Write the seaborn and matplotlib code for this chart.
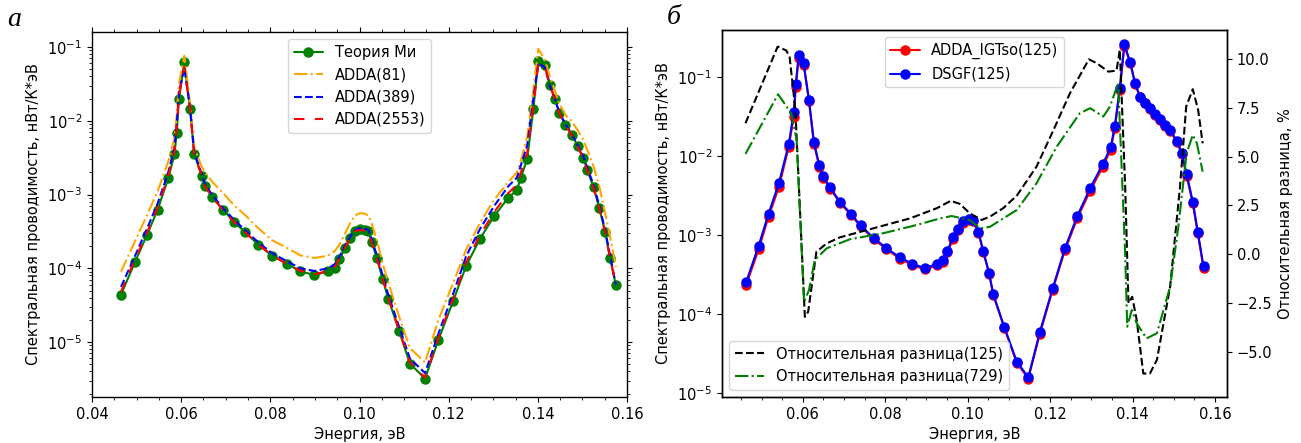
import numpy as np
import pandas as pd
import seaborn as sns
import matplotlib
matplotlib.use("Agg")
import matplotlib.pyplot as plt
from matplotlib.ticker import MultipleLocator, NullLocator

# ---------------- data: panel (a) ----------------
energy_a = [0.0465, 0.0496, 0.0523, 0.0547, 0.0571, 0.0585, 0.0590, 0.0595, 0.0607, 0.0620,
            0.0629, 0.0646, 0.0653, 0.0670, 0.0694, 0.0718, 0.0743, 0.0773, 0.0804, 0.0837,
            0.0867, 0.0899, 0.0929, 0.0944, 0.0955, 0.0968, 0.0979, 0.0990, 0.1001, 0.1012,
            0.1020, 0.1027, 0.1039, 0.1052, 0.1065, 0.1089, 0.1113, 0.1147, 0.1177, 0.1210,
            0.1239, 0.1270, 0.1302, 0.1334, 0.1353, 0.1362, 0.1376, 0.1390, 0.1401, 0.1416,
            0.1427, 0.1439, 0.1448, 0.1462, 0.1476, 0.1489, 0.1502, 0.1511, 0.1525, 0.1538,
            0.1551, 0.1562, 0.1575]

mie = [4.4e-5, 1.2e-4, 2.8e-4, 6.2e-4, 1.66e-3, 3.55e-3, 6.8e-3, 1.97e-2, 6.2e-2, 1.45e-2,
       3.6e-3, 1.8e-3, 1.32e-3, 9.3e-4, 6.2e-4, 4.3e-4, 3.1e-4, 2.1e-4, 1.48e-4, 1.15e-4,
       9.1e-5, 8.1e-5, 9.1e-5, 1.02e-4, 1.32e-4, 1.9e-4, 2.57e-4, 3.16e-4, 3.4e-4, 3.3e-4,
       3.16e-4, 2.3e-4, 1.38e-4, 7.1e-5, 3.8e-5, 1.41e-5, 5.1e-6, 3.2e-6, 1.07e-5, 3.6e-5,
       1.07e-4, 2.5e-4, 5.1e-4, 9.1e-4, 1.15e-3, 1.7e-3, 3.0e-3, 1.45e-2, 6.5e-2, 5.75e-2,
       3.1e-2, 1.95e-2, 1.29e-2, 8.9e-3, 6.5e-3, 4.6e-3, 3.16e-3, 2.14e-3, 1.26e-3, 6.5e-4,
       3.1e-4, 1.38e-4, 5.9e-5]

adda_81 = [9.0e-5, 2.3e-4, 5.2e-4, 1.1e-3, 2.8e-3, 5.8e-3, 1.2e-2, 3.2e-2, 7.6e-2, 1.7e-2,
           4.4e-3, 2.4e-3, 2.0e-3, 1.48e-3, 1.05e-3, 7.2e-4, 5.3e-4, 3.5e-4, 2.4e-4, 1.9e-4,
           1.5e-4, 1.38e-4, 1.48e-4, 1.7e-4, 2.1e-4, 3.0e-4, 4.1e-4, 5.2e-4, 5.6e-4, 5.5e-4,
           5.2e-4, 4.1e-4, 2.4e-4, 1.17e-4, 6.3e-5, 2.2e-5, 8.3e-6, 5.3e-6, 2.0e-5, 6.3e-5,
           1.78e-4, 4.1e-4, 8.5e-4, 1.48e-3, 2.0e-3, 2.9e-3, 6.0e-3, 2.6e-2, 9.5e-2, 6.6e-2,
           4.0e-2, 2.5e-2, 1.73e-2, 1.2e-2, 9.8e-3, 7.5e-3, 5.5e-3, 4.0e-3, 2.4e-3, 1.29e-3,
           5.6e-4, 2.7e-4, 1.05e-4]

adda_389 = [5.6e-5, 1.45e-4, 3.4e-4, 7.5e-4, 2.0e-3, 4.3e-3, 9.0e-3, 2.4e-2, 5.2e-2, 1.5e-2,
            3.8e-3, 1.9e-3, 1.4e-3, 9.8e-4, 6.5e-4, 4.6e-4, 3.3e-4, 2.25e-4, 1.6e-4, 1.25e-4,
            1.0e-4, 9.2e-5, 1.0e-4, 1.12e-4, 1.45e-4, 2.05e-4, 2.7e-4, 3.3e-4, 3.5e-4, 3.45e-4,
            3.3e-4, 2.5e-4, 1.5e-4, 8.0e-5, 4.3e-5, 1.6e-5, 6.0e-6, 3.8e-6, 1.3e-5, 4.5e-5,
            1.45e-4, 3.4e-4, 7.0e-4, 1.3e-3, 1.7e-3, 2.5e-3, 4.6e-3, 2.0e-2, 6.0e-2, 5.3e-2,
            3.0e-2, 1.9e-2, 1.3e-2, 9.0e-3, 6.6e-3, 4.7e-3, 3.3e-3, 2.3e-3, 1.35e-3, 7.0e-4,
            3.3e-4, 1.5e-4, 6.0e-5]

adda_2553 = [4.8e-5, 1.3e-4, 3.0e-4, 6.6e-4, 1.8e-3, 3.9e-3, 8.0e-3, 2.2e-2, 5.3e-2, 1.45e-2,
             3.6e-3, 1.8e-3, 1.3e-3, 9.2e-4, 6.1e-4, 4.3e-4, 3.1e-4, 2.1e-4, 1.5e-4, 1.15e-4,
             9.3e-5, 8.3e-5, 9.2e-5, 1.03e-4, 1.35e-4, 1.95e-4, 2.6e-4, 3.2e-4, 3.3e-4, 3.25e-4,
             3.1e-4, 2.3e-4, 1.38e-4, 7.3e-5, 3.9e-5, 1.45e-5, 5.3e-6, 3.3e-6, 1.15e-5, 3.9e-5,
             1.2e-4, 2.8e-4, 5.8e-4, 1.05e-3, 1.35e-3, 2.0e-3, 3.6e-3, 1.6e-2, 5.8e-2, 5.4e-2,
             3.0e-2, 1.9e-2, 1.28e-2, 8.8e-3, 6.4e-3, 4.5e-3, 3.1e-3, 2.1e-3, 1.25e-3, 6.5e-4,
             3.1e-4, 1.38e-4, 6.0e-5]

# ---------------- data: panel (b) ----------------
energy_b = [0.0463, 0.0493, 0.0517, 0.0542, 0.0566, 0.0578, 0.0583, 0.0590, 0.0602, 0.0615,
            0.0627, 0.0640, 0.0649, 0.0666, 0.0690, 0.0716, 0.0740, 0.0772, 0.0803, 0.0835,
            0.0866, 0.0896, 0.0926, 0.0941, 0.0951, 0.0964, 0.0977, 0.0989, 0.1002, 0.1012,
            0.1026, 0.1038, 0.1052, 0.1062, 0.1089, 0.1119, 0.1147, 0.1175, 0.1206, 0.1236,
            0.1266, 0.1297, 0.1328, 0.1347, 0.1357, 0.1369, 0.1380, 0.1394, 0.1406, 0.1418,
            0.1430, 0.1442, 0.1454, 0.1467, 0.1479, 0.1491, 0.1507, 0.1519, 0.1531, 0.1546,
            0.1558, 0.1572]

dsgf_125 = [2.57e-4, 7.3e-4, 1.86e-3, 4.5e-3, 1.41e-2, 3.55e-2, 8.1e-2, 0.186, 0.148, 5.1e-2,
            1.48e-2, 7.6e-3, 5.5e-3, 4.0e-3, 2.63e-3, 1.86e-3, 1.32e-3, 9.1e-4, 6.8e-4, 5.2e-4,
            4.3e-4, 3.8e-4, 4.3e-4, 4.8e-4, 6.3e-4, 9.3e-4, 1.2e-3, 1.48e-3, 1.58e-3, 1.55e-3,
            1.1e-3, 6.2e-4, 3.3e-4, 1.78e-4, 6.8e-5, 2.5e-5, 1.58e-5, 5.9e-5, 2.1e-4, 6.8e-4,
            1.74e-3, 3.9e-3, 7.9e-3, 1.29e-2, 2.4e-2, 7.2e-2, 0.257, 0.155, 8.3e-2, 5.6e-2,
            4.7e-2, 4.0e-2, 3.4e-2, 2.9e-2, 2.45e-2, 2.14e-2, 1.55e-2, 1.1e-2, 5.9e-3, 2.63e-3,
            1.1e-3, 4.0e-4]

adda_igtso_125 = [2.35e-4, 6.6e-4, 1.7e-3, 4.0e-3, 1.3e-2, 3.1e-2, 7.4e-2, 0.175, 0.142, 4.9e-2,
                  1.42e-2, 7.3e-3, 5.3e-3, 3.85e-3, 2.55e-3, 1.8e-3, 1.28e-3, 8.8e-4, 6.6e-4, 5.0e-4,
                  4.15e-4, 3.65e-4, 4.1e-4, 4.55e-4, 6.0e-4, 8.8e-4, 1.14e-3, 1.42e-3, 1.52e-3, 1.5e-3,
                  1.06e-3, 6.0e-4, 3.2e-4, 1.72e-4, 6.6e-5, 2.4e-5, 1.52e-5, 5.6e-5, 2.0e-4, 6.4e-4,
                  1.62e-3, 3.6e-3, 7.3e-3, 1.2e-2, 2.25e-2, 6.7e-2, 0.245, 0.15, 8.1e-2, 5.5e-2,
                  4.6e-2, 3.9e-2, 3.3e-2, 2.8e-2, 2.4e-2, 2.08e-2, 1.5e-2, 1.06e-2, 5.6e-3, 2.5e-3,
                  1.05e-3, 3.8e-4]

energy_d125 = [0.0461, 0.0539, 0.0560, 0.0568, 0.0582, 0.0605, 0.0613, 0.0633, 0.0658, 0.0690,
               0.0755, 0.0860, 0.0925, 0.0959, 0.0981, 0.1005, 0.1034, 0.1054, 0.1086, 0.1119,
               0.1167, 0.1208, 0.1248, 0.1294, 0.1313, 0.1341, 0.1361, 0.1369, 0.1382, 0.1390,
               0.1399, 0.1410, 0.1426, 0.1442, 0.1459, 0.1491, 0.1515, 0.1530, 0.1546, 0.1559,
               0.1570]
reldiff_125 = [6.71, 10.63, 10.43, 10.1, 7.4, -3.2, -2.94, 0.13, 0.56, 0.87,
               1.24, 1.84, 2.36, 2.74, 2.58, 2.1, 1.76, 1.93, 2.36, 3.0,
               4.49, 6.36, 8.24, 9.98, 9.78, 9.35, 9.4, 10.46, 3.46, -2.5,
               -2.17, -3.36, -6.1, -6.1, -5.4, -1.66, 3.46, 7.56, 8.45, 7.39,
               5.68]

energy_d729 = [0.0461, 0.0540, 0.0560, 0.0573, 0.0585, 0.0603, 0.0615, 0.0629, 0.0658, 0.0714,
               0.0795, 0.0876, 0.0933, 0.0961, 0.1005, 0.1030, 0.1054, 0.1119, 0.1167, 0.1216,
               0.1272, 0.1297, 0.1329, 0.1345, 0.1365, 0.1382, 0.1387, 0.1398, 0.1410, 0.1434,
               0.1459, 0.1491, 0.1511, 0.1531, 0.1546, 0.1556, 0.1570]
reldiff_729 = [5.14, 8.19, 7.59, 7.13, 5.85, -2.43, -1.83, -0.29, 0.31, 0.77,
               1.08, 1.5, 1.84, 1.96, 1.76, 1.33, 1.41, 2.27, 3.64, 5.51,
               7.22, 7.48, 7.05, 7.56, 8.76, 0.05, -3.7, -2.85, -3.53, -4.3,
               -4.04, -1.66, 1.41, 5.17, 6.11, 5.68, 4.23]

# ---------------- style ----------------
sns.set_theme(style="ticks", rc={
    "axes.edgecolor": "black", "axes.labelcolor": "black", "text.color": "black",
    "xtick.color": "black", "ytick.color": "black", "axes.linewidth": 1.0,
    "xtick.major.size": 3.5, "ytick.major.size": 3.5,
    "xtick.minor.size": 2.0, "ytick.minor.size": 2.0,
    "xtick.major.width": 0.8, "ytick.major.width": 0.8,
    "xtick.minor.width": 0.6, "ytick.minor.width": 0.6,
    "legend.frameon": True, "legend.fancybox": True, "legend.framealpha": 0.8,
    "legend.edgecolor": "0.8",
})
plt.rcParams["font.family"] = ["DejaVu Sans"]
FS = 10.5
plt.rcParams["font.size"] = FS

fig = plt.figure(figsize=(13.01, 4.43), dpi=100)
W, H = 1301, 443
axA = fig.add_axes([92 / W, 1 - 397 / H, (627 - 92) / W, (397 - 32) / H])
axB = fig.add_axes([722 / W, 1 - 397 / H, (1227 - 722) / W, (397 - 30) / H])

mk = dict(marker="o", markersize=6.5, markeredgewidth=1)

# panel a
sns.lineplot(x=energy_a, y=mie, ax=axA, color="green", label="Теория Ми",
             sort=False, estimator=None, markeredgecolor="green", **mk)
sns.lineplot(x=energy_a, y=adda_81, ax=axA, color="orange", linestyle="-.",
             label="ADDA(81)", sort=False, estimator=None)
sns.lineplot(x=energy_a, y=adda_389, ax=axA, color="blue", linestyle="--",
             label="ADDA(389)", sort=False, estimator=None)
sns.lineplot(x=energy_a, y=adda_2553, ax=axA, color="red", linestyle=(0, (5, 5)),
             label="ADDA(2553)", sort=False, estimator=None)
axA.set_yscale("log")
axA.set_xlim(0.04, 0.16)
axA.set_ylim(1.8e-6, 0.16)
axA.xaxis.set_major_locator(MultipleLocator(0.02))
axA.xaxis.set_minor_locator(MultipleLocator(0.005))
axA.tick_params(which="both", top=True, right=True, labelsize=FS)
axA.set_xlabel("Энергия, эВ", fontsize=FS)
axA.set_ylabel("Спектральная проводимость, нВт/К*эВ", fontsize=FS)
axA.legend(loc="upper center", fontsize=FS)

# panel b
sns.lineplot(x=energy_b, y=adda_igtso_125, ax=axB, color="red", label="ADDA_IGTso(125)",
             sort=False, estimator=None, markeredgecolor="red", **mk)
sns.lineplot(x=energy_b, y=dsgf_125, ax=axB, color="blue", label="DSGF(125)",
             sort=False, estimator=None, markeredgecolor="blue", **mk)
axB.set_yscale("log")
axB.set_xlim(0.0404, 0.1629)
axB.set_ylim(8.9e-6, 0.39)
axB.xaxis.set_major_locator(MultipleLocator(0.02))
axB.xaxis.set_minor_locator(MultipleLocator(0.005))
axB.yaxis.set_minor_locator(NullLocator())
axB.tick_params(which="both", labelsize=FS)
axB.set_xlabel("Энергия, эВ", fontsize=FS)
axB.set_ylabel("Спектральная проводимость, нВт/К*эВ", fontsize=FS)
axB.legend(loc="upper center", fontsize=FS)

axB2 = axB.twinx()
sns.lineplot(x=energy_d125, y=reldiff_125, ax=axB2, color="black", linestyle="--",
             label="Относительная разница(125)", sort=False, estimator=None)
sns.lineplot(x=energy_d729, y=reldiff_729, ax=axB2, color="green", linestyle="-.",
             label="Относительная разница(729)", sort=False, estimator=None)
axB2.set_ylim(-7.3, 11.48)
axB2.yaxis.set_major_locator(MultipleLocator(2.5))
axB2.tick_params(labelsize=FS)
axB2.set_ylabel("Относительная разница, %", fontsize=FS)
axB2.legend(loc="lower left", fontsize=FS)
for s in axB2.spines.values():
    s.set_visible(True)

fig.text(7 / W, 1 - 26 / H, "а", fontsize=20, style="italic", family="Liberation Serif")
fig.text(667 / W, 1 - 24 / H, "б", fontsize=20, style="italic", family="Liberation Serif")

fig.savefig("out.png", dpi=100)
